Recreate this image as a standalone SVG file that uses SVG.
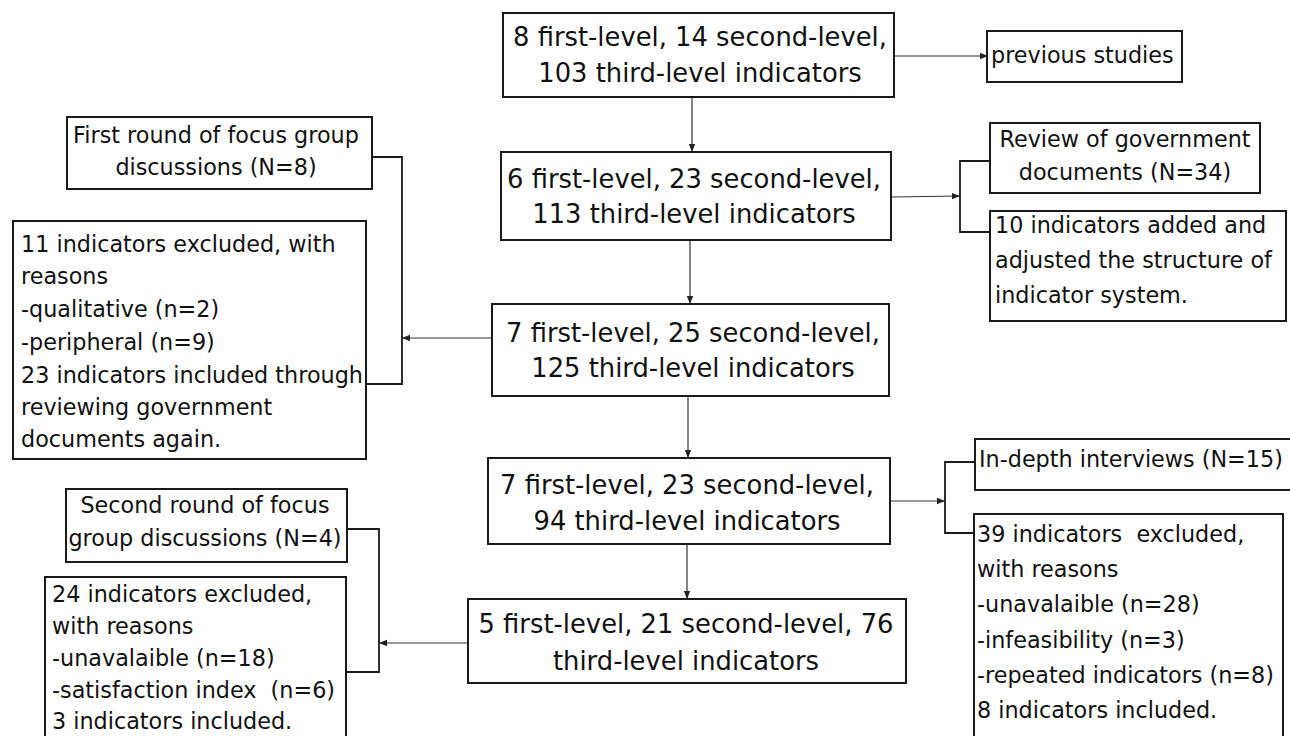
<svg xmlns="http://www.w3.org/2000/svg" width="1290" height="736" viewBox="0 0 1290 736">
<defs>
<marker id="ah" viewBox="0 0 10 10" refX="10" refY="5" markerWidth="8" markerHeight="8" markerUnits="userSpaceOnUse" orient="auto">
<path d="M0,1 L10,5 L0,9 z" fill="#222"/>
</marker>
<style>
.box{fill:#fff;stroke:#1a1a1a;stroke-width:2}
.big{font-family:"DejaVu Sans","Verdana",sans-serif;font-size:25.8px;fill:#111;text-anchor:middle}
.t{font-family:"DejaVu Sans","Verdana",sans-serif;font-size:22.3px;fill:#111;white-space:pre}
.c{text-anchor:middle}
.ln{fill:none;stroke:#333;stroke-width:1.2}
.br{fill:none;stroke:#1a1a1a;stroke-width:1.8}
</style>
</defs>
<rect width="1290" height="736" fill="#fff"/>

<g id="connectors">
<line class="ln" x1="692" y1="97" x2="692" y2="152" marker-end="url(#ah)"/>
<line class="ln" x1="894" y1="56" x2="988" y2="56" marker-end="url(#ah)"/>
<line class="ln" x1="891" y1="197" x2="960" y2="196" marker-end="url(#ah)"/>
<polyline class="br" points="990,161 960,161 960,232 990,232"/>
<line class="ln" x1="690" y1="240" x2="690" y2="304" marker-end="url(#ah)"/>
<polyline class="br" points="372,157 402,157 402,384 366,384"/>
<line class="ln" x1="492" y1="338" x2="402" y2="338" marker-end="url(#ah)"/>
<line class="ln" x1="688" y1="396" x2="688" y2="458" marker-end="url(#ah)"/>
<line class="ln" x1="890" y1="501" x2="945" y2="501" marker-end="url(#ah)"/>
<polyline class="br" points="975,462 945,462 945,533 975,533"/>
<line class="ln" x1="687" y1="544" x2="687" y2="599" marker-end="url(#ah)"/>
<polyline class="br" points="347,529 379,529 379,672 345,672"/>
<line class="ln" x1="468" y1="643" x2="379" y2="643" marker-end="url(#ah)"/>
</g>

<g id="nodeA">
<rect class="box" x="503" y="13" width="391" height="84"/>
<text class="big" x="700" y="46">8 first-level, 14 second-level,</text>
<text class="big" x="700" y="82">103 third-level indicators</text>
</g>

<g id="nodePrev">
<rect class="box" x="987" y="31" width="195" height="51"/>
<text class="t" x="991" y="63">previous studies</text>
</g>

<g id="nodeB">
<rect class="box" x="501" y="152" width="390" height="88"/>
<text class="big" x="694" y="188">6 first-level, 23 second-level,</text>
<text class="big" x="694" y="223">113 third-level indicators</text>
</g>

<g id="nodeReview">
<rect class="box" x="990" y="123" width="270" height="70"/>
<text class="t c" x="1125" y="147">Review of government</text>
<text class="t c" x="1125" y="180">documents (N=34)</text>
</g>

<g id="nodeAdded">
<rect class="box" x="990" y="211" width="296" height="110"/>
<text class="t" x="995" y="233">10 indicators added and</text>
<text class="t" x="995" y="268">adjusted the structure of</text>
<text class="t" x="995" y="303">indicator system.</text>
</g>

<g id="nodeFirstRound">
<rect class="box" x="67" y="117" width="305" height="72"/>
<text class="t c" x="216" y="143">First round of focus group</text>
<text class="t c" x="216" y="175">discussions (N=8)</text>
</g>

<g id="nodeExcl11">
<rect class="box" x="13" y="221" width="353" height="238"/>
<text class="t" x="21" y="252">11 indicators excluded, with</text>
<text class="t" x="21" y="284">reasons</text>
<text class="t" x="21" y="317">-qualitative (n=2)</text>
<text class="t" x="21" y="350">-peripheral (n=9)</text>
<text class="t" x="21" y="383">23 indicators included through</text>
<text class="t" x="21" y="415">reviewing government</text>
<text class="t" x="21" y="447">documents again.</text>
</g>

<g id="nodeC">
<rect class="box" x="492" y="304" width="397" height="92"/>
<text class="big" x="693" y="342">7 first-level, 25 second-level,</text>
<text class="big" x="693" y="377">125 third-level indicators</text>
</g>

<g id="nodeD">
<rect class="box" x="488" y="458" width="402" height="86"/>
<text class="big" x="687" y="494">7 first-level, 23 second-level,</text>
<text class="big" x="687" y="530">94 third-level indicators</text>
</g>

<g id="nodeInDepth">
<rect class="box" x="975" y="439" width="330" height="51"/>
<text class="t" x="979" y="467">In-depth interviews (N=15)</text>
</g>

<g id="nodeExcl39">
<rect class="box" x="974" y="514" width="309" height="230"/>
<text class="t" x="977" y="542" xml:space="preserve">39 indicators  excluded,</text>
<text class="t" x="977" y="577">with reasons</text>
<text class="t" x="977" y="612">-unavalaible (n=28)</text>
<text class="t" x="977" y="648">-infeasibility (n=3)</text>
<text class="t" x="977" y="683">-repeated indicators (n=8)</text>
<text class="t" x="977" y="718">8 indicators included.</text>
</g>

<g id="nodeE">
<rect class="box" x="468" y="599" width="438" height="84"/>
<text class="big" x="686" y="633">5 first-level, 21 second-level, 76</text>
<text class="big" x="686" y="670">third-level indicators</text>
</g>

<g id="nodeSecondRound">
<rect class="box" x="66" y="489" width="281" height="73"/>
<text class="t c" x="205" y="513">Second round of focus</text>
<text class="t c" x="205" y="546">group discussions (N=4)</text>
</g>

<g id="nodeExcl24">
<rect class="box" x="45" y="577" width="301" height="170"/>
<text class="t" x="52" y="602">24 indicators excluded,</text>
<text class="t" x="52" y="634">with reasons</text>
<text class="t" x="52" y="666">-unavalaible (n=18)</text>
<text class="t" x="52" y="698" xml:space="preserve">-satisfaction index  (n=6)</text>
<text class="t" x="52" y="729">3 indicators included.</text>
</g>
</svg>
